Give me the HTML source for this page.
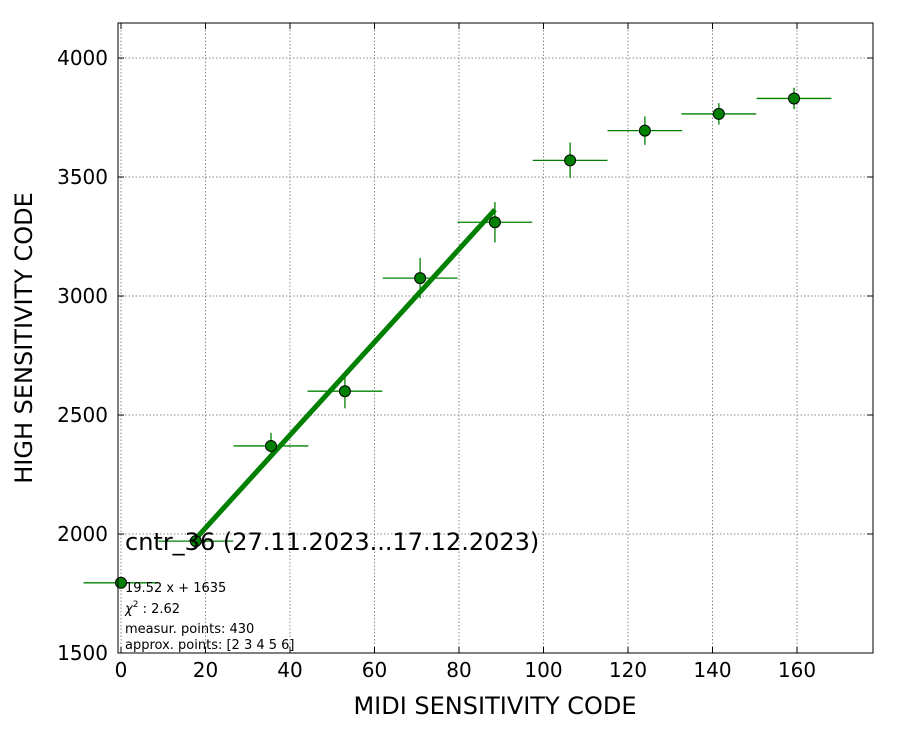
<!DOCTYPE html>
<html><head><meta charset="utf-8"><style>
body{margin:0;background:#fff;}
svg text{font-family:"DejaVu Sans","Liberation Sans",sans-serif;}
</style></head><body>
<svg id="chart" width="900" height="750" xmlns="http://www.w3.org/2000/svg">
<rect width="900" height="750" fill="#fff"/>
<g id="grid"></g>
<g id="axes"></g>
<g id="fit"></g>
<g id="pts"></g>
<rect x="118" y="23" width="755" height="630" fill="none" stroke="#000" stroke-width="1"/>
<text x="125" y="550" font-size="24">cntr_36 (27.11.2023...17.12.2023)</text>
<text x="125" y="592" font-size="13">19.52 x + 1635</text>
<text x="125" y="613" font-size="13"><tspan font-style="italic">χ</tspan><tspan dy="-6" font-size="9">2</tspan><tspan dy="6"> : 2.62</tspan></text>
<text x="125" y="633" font-size="13">measur. points: 430</text>
<text x="125" y="649" font-size="13">approx. points: [2 3 4 5 6]</text>
<text x="495" y="714" font-size="24" text-anchor="middle">MIDI SENSITIVITY CODE</text>
<text transform="translate(32,338) rotate(-90)" font-size="24" text-anchor="middle">HIGH SENSITIVITY CODE</text>
</svg>
<script>
const xVals=[0,17.7,35.5,53,70.8,88.5,106.3,124,141.5,159.3];
const yVals=[1795,1970,2370,2600,3075,3310,3570,3695,3765,3830];
const xErr=[8.85,8.85,8.85,8.85,8.85,8.85,8.85,8.85,8.85,8.85];
const yErr=[20,20,55,72,85,85,75,60,45,45];
const xTicks=[0,20,40,60,80,100,120,140,160];
const yTicks=[1500,2000,2500,3000,3500,4000];
const fitSlope=19.52, fitIntercept=1635, fitFrom=17.7, fitTo=88.5;
const X=v=>121+(v-0)*676/160;
const Y=v=>653-(v-1500)*595/2500;
const NS='http://www.w3.org/2000/svg';
function mk(parent,tag,attrs){const e=document.createElementNS(NS,tag);for(const k in attrs)e.setAttribute(k,attrs[k]);parent.appendChild(e);return e;}
const grid=document.getElementById('grid'),axes=document.getElementById('axes');
xTicks.forEach(t=>{
 const l=mk(grid,'line',{x1:X(t),x2:X(t),y1:23,y2:653,stroke:'#888','stroke-dasharray':'1.5,2','stroke-width':1});
 
 
 const tk=mk(axes,'line',{x1:X(t),x2:X(t),y1:653,y2:647,stroke:'#000'});
 
 
 const tk2=mk(axes,'line',{x1:X(t),x2:X(t),y1:23,y2:29,stroke:'#000'});
 
 
 const tx=mk(axes,'text',{x:X(t),y:677,'font-size':20,'text-anchor':'middle'});tx.textContent=t;
 
 
});
yTicks.forEach(t=>{
 const l=mk(grid,'line',{x1:118,x2:873,y1:Y(t),y2:Y(t),stroke:'#888','stroke-dasharray':'1.5,2','stroke-width':1});
 
 
 const tk=mk(axes,'line',{x1:118,x2:124,y1:Y(t),y2:Y(t),stroke:'#000'});
 
 
 const tk2=mk(axes,'line',{x1:867,x2:873,y1:Y(t),y2:Y(t),stroke:'#000'});
 
 
 const tx=mk(axes,'text',{x:108,y:Y(t)+7,'font-size':20,'text-anchor':'end'});tx.textContent=t;
 
 
});
const fit=document.getElementById('fit');
const fl=mk(fit,'line',{x1:X(fitFrom),y1:Y(fitSlope*fitFrom+fitIntercept),x2:X(fitTo),y2:Y(fitSlope*fitTo+fitIntercept),stroke:'#008000','stroke-width':5});


const pts=document.getElementById('pts');
xVals.forEach((x,i)=>{
 const y=yVals[i];
 const g=mk(pts,'g',{});
 
 
 mk(g,'line',{x1:X(x-xErr[i]),x2:X(x+xErr[i]),y1:Y(y),y2:Y(y),stroke:'#008000','stroke-width':1.3});
 mk(g,'line',{x1:X(x),x2:X(x),y1:Y(y-yErr[i]),y2:Y(y+yErr[i]),stroke:'#008000','stroke-width':1.3});
 mk(g,'circle',{cx:X(x),cy:Y(y),r:5.5,fill:'#008000',stroke:'#000','stroke-width':1});
});
</script>
</body></html>
